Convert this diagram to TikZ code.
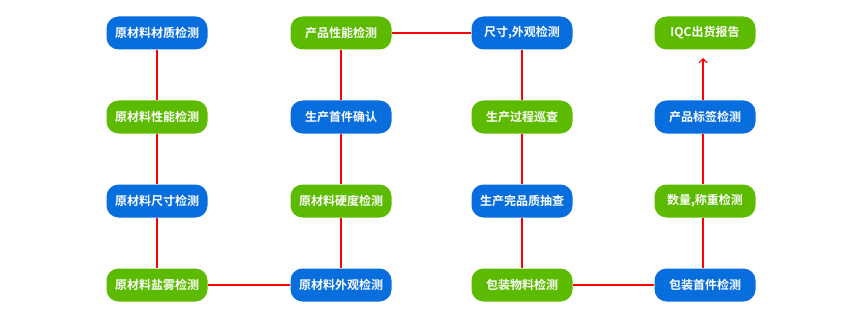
\documentclass[tikz,border=0pt]{standalone}
\usepackage{fontspec}
\setmainfont{Noto Sans CJK SC}[BoldFont={Noto Sans CJK SC Bold}]
\usetikzlibrary{arrows.meta}
\definecolor{bblue}{RGB}{8,110,222}
\definecolor{bgreen}{RGB}{92,187,0}
\definecolor{lred}{RGB}{255,0,0}
\tikzset{
  boxbase/.style={rounded corners=12pt, minimum width=101pt, minimum height=33pt, inner sep=0pt, text=white, font=\fontsize{12}{12}\selectfont\bfseries},
  bluebox/.style={boxbase, fill=bblue},
  greenbox/.style={boxbase, fill=bgreen},
  link/.style={draw=lred, line width=1.1pt},
}
\begin{document}
\begin{tikzpicture}[x=1pt,y=-1pt]
\useasboundingbox (0,0) rectangle (861,318);
% column 1
\node[bluebox]  (a1) at (157,33)  {原材料材质检测};
\node[greenbox] (a2) at (157,117) {原材料性能检测};
\node[bluebox]  (a3) at (157,201) {原材料尺寸检测};
\node[greenbox] (a4) at (157,285) {原材料盐雾检测};
% column 2
\node[greenbox] (b1) at (341,33)  {产品性能检测};
\node[bluebox]  (b2) at (341,117) {生产首件确认};
\node[greenbox] (b3) at (341,201) {原材料硬度检测};
\node[bluebox]  (b4) at (341,285) {原材料外观检测};
% column 3
\node[bluebox]  (c1) at (522,33)  {尺寸,外观检测};
\node[greenbox] (c2) at (522,117) {生产过程巡查};
\node[bluebox]  (c3) at (522,201) {生产完品质抽查};
\node[greenbox] (c4) at (522,285) {包装物料检测};
% column 4
\node[greenbox] (d1) at (705,33)  {IQC出货报告};
\node[bluebox]  (d2) at (705,117) {产品标签检测};
\node[greenbox] (d3) at (705,201) {数量,称重检测};
\node[bluebox]  (d4) at (705,285) {包装首件检测};
\coordinate (tip) at (703,58);
% connectors
\draw[link] (a1) -- (a2);
\draw[link] (a2) -- (a3);
\draw[link] (a3) -- (a4);
\draw[link] (a4) -- (b4);
\draw[link] (b4) -- (b3);
\draw[link] (b3) -- (b2);
\draw[link] (b2) -- (b1);
\draw[link] (b1) -- (c1);
\draw[link] (c1) -- (c2);
\draw[link] (c2) -- (c3);
\draw[link] (c3) -- (c4);
\draw[link] (c4) -- (d4);
\draw[link] (d4.north -| tip) -- (d3.south -| tip);
\draw[link] (d3.north -| tip) -- (d2.south -| tip);
\draw[link, -{Straight Barb[length=4pt,width=8pt]}] (d2.north -| tip) -- (tip);
\end{tikzpicture}
\end{document}
